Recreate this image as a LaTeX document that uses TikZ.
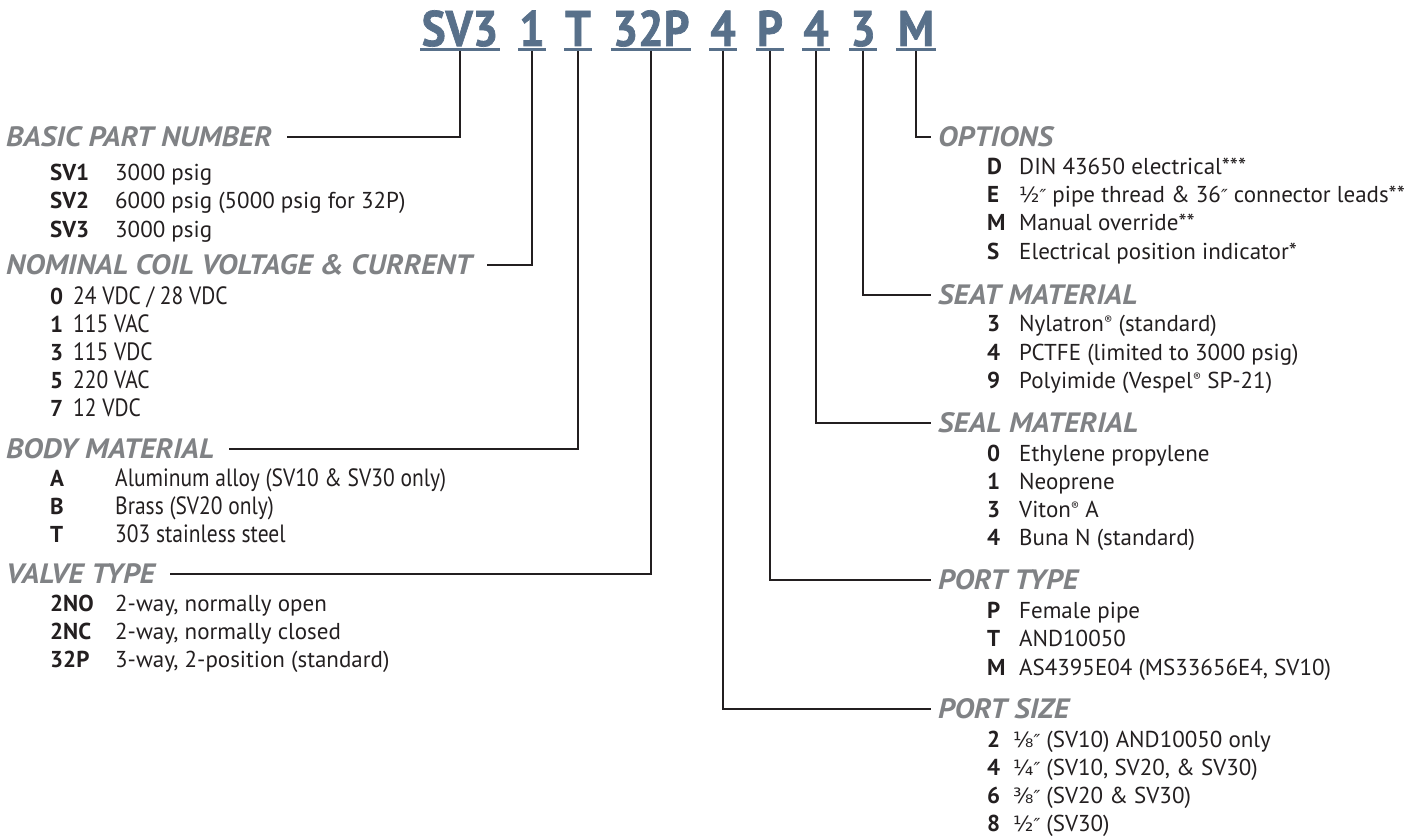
\documentclass[tikz,border=0pt]{standalone}
\usepackage{fontspec}
\setmainfont{PT Sans}
\newfontfamily\condfont[FakeStretch=0.86]{PT Sans}
\newfontfamily\titlefont[FakeStretch=0.9,FakeBold=1.4]{PT Sans}
\newfontfamily\headfont[FakeStretch=1.08]{PT Sans}
\newfontfamily\symfont{DejaVu Sans}
\definecolor{titleblue}{RGB}{88,112,138}
\definecolor{headgray}{RGB}{128,130,133}
\definecolor{ink}{RGB}{35,31,32}
\newcommand{\fr}[1]{{\symfont\fontsize{21}{21}\selectfont #1}}
\newcommand{\dq}{{\symfont\fontsize{18}{18}\selectfont\itshape ″}}
\newcommand{\reg}{\raisebox{0.55ex}{\fontsize{12}{12}\selectfont ®}}
\begin{document}
\begin{tikzpicture}[x=1pt,y=-1pt,
  titlepart/.style={font=\titlefont\bfseries\fontsize{50}{50}\selectfont, text=titleblue, inner sep=0pt, anchor=base},
  uline/.style={draw=titleblue, line width=3pt},
  conn/.style={draw=ink, line width=1.6pt},
  heading/.style={font=\headfont\bfseries\itshape\fontsize{28}{28}\selectfont, text=headgray, inner sep=0pt, anchor=west},
  code/.style={font=\bfseries\fontsize{23}{23}\selectfont, text=ink, inner sep=0pt, anchor=base west},
  desc/.style={font=\fontsize{23}{23}\selectfont, text=ink, inner sep=0pt, anchor=base west},
  cdesc/.style={font=\condfont\fontsize{25}{25}\selectfont, text=ink, inner sep=0pt, anchor=base west}]
\useasboundingbox (0,0) rectangle (1416,837);
% title
\node[titlepart, minimum width=79pt] (t1) at (460,46) {SV3};
\node[titlepart, minimum width=27pt] (t2) at (532,46) {1};
\node[titlepart, minimum width=27pt] (t3) at (578,46) {T};
\node[titlepart, minimum width=80pt] (t4) at (651,46) {32P};
\node[titlepart, minimum width=27pt] (t5) at (723,46) {4};
\node[titlepart, minimum width=28pt] (t6) at (770,46) {P};
\node[titlepart, minimum width=27pt] (t7) at (816,46) {4};
\node[titlepart, minimum width=28pt] (t8) at (863,46) {3};
\node[titlepart, minimum width=40pt] (t9) at (916,46) {M};
\foreach \t in {t1,t2,t3,t4,t5,t6,t7,t8,t9}
  \draw[uline] ([yshift=-3.5pt]\t.base west) -- ([yshift=-3.5pt]\t.base east);
% left headings
\node[heading] (h1) at (6,137) {BASIC PART NUMBER};
\node[heading] (h2) at (6,265) {NOMINAL COIL VOLTAGE \& CURRENT};
\node[heading] (h3) at (6,449) {BODY MATERIAL};
\node[heading] (h4) at (6,574) {VALVE TYPE};
% right headings
\node[heading] (h9) at (938,137) {OPTIONS};
\node[heading] (h8) at (938,295) {SEAT MATERIAL};
\node[heading] (h7) at (938,423) {SEAL MATERIAL};
\node[heading] (h6) at (938,580) {PORT TYPE};
\node[heading] (h5) at (938,709) {PORT SIZE};
% connectors
\draw[conn] ([yshift=-5pt]t1.base) |- ([xshift=15pt]h1.east);
\draw[conn] ([yshift=-5pt]t2.base) |- ([xshift=15pt]h2.east);
\draw[conn] ([yshift=-5pt]t3.base) |- ([xshift=15pt]h3.east);
\draw[conn] ([yshift=-5pt]t4.base) |- ([xshift=15pt]h4.east);
\draw[conn] ([yshift=-5pt]t5.base) |- ([xshift=-7pt]h5.west);
\draw[conn] ([yshift=-5pt]t6.base) |- ([xshift=-7pt]h6.west);
\draw[conn] ([yshift=-5pt]t7.base) |- ([xshift=-7pt]h7.west);
\draw[conn] ([yshift=-5pt]t8.base) |- ([xshift=-7pt]h8.west);
\draw[conn] ([yshift=-5pt]t9.base) |- ([xshift=-7pt]h9.west);
% BASIC PART NUMBER
\node[code] (a1c) at (50,181) {SV1}; \node[desc] (a1d) at (115,181) {3000 psig};
\node[code] (a2c) at (50,209) {SV2}; \node[desc] (a2d) at (115,209) {6000 psig (5000 psig for 32P)};
\node[code] (a3c) at (50,237) {SV3}; \node[desc] (a3d) at (115,237) {3000 psig};
% NOMINAL COIL
\node[code] (b1c) at (50,304) {0}; \node[cdesc] (b1d) at (73,304) {24 VDC / 28 VDC};
\node[code] (b2c) at (50,332) {1}; \node[cdesc] (b2d) at (73,332) {115 VAC};
\node[code] (b3c) at (50,360) {3}; \node[cdesc] (b3d) at (73,360) {115 VDC};
\node[code] (b4c) at (50,388) {5}; \node[cdesc] (b4d) at (73,388) {220 VAC};
\node[code] (b5c) at (50,416) {7}; \node[cdesc] (b5d) at (73,416) {12 VDC};
% BODY MATERIAL
\node[code] (c1c) at (50,486) {A}; \node[cdesc] (c1d) at (115,486) {Aluminum alloy (SV10 \& SV30 only)};
\node[code] (c2c) at (50,514) {B}; \node[cdesc] (c2d) at (115,514) {Brass (SV20 only)};
\node[code] (c3c) at (50,542) {T}; \node[cdesc] (c3d) at (115,542) {303 stainless steel};
% VALVE TYPE
\node[code] (d1c) at (50,611) {2NO}; \node[desc] (d1d) at (115,611) {2-way, normally open};
\node[code] (d2c) at (50,639) {2NC}; \node[desc] (d2d) at (115,639) {2-way, normally closed};
\node[code] (d3c) at (50,667) {32P}; \node[desc] (d3d) at (115,667) {3-way, 2-position (standard)};
% OPTIONS
\node[code] (e1c) at (987,175) {D}; \node[desc] (e1d) at (1019,175) {DIN 43650 electrical***};
\node[code] (e2c) at (987,203) {E}; \node[desc] (e2d) at (1019,203) {\fr{½}\dq{} pipe thread \& 36\dq{} connector leads**};
\node[code] (e3c) at (987,231) {M}; \node[desc] (e3d) at (1019,231) {Manual override**};
\node[code] (e4c) at (987,259) {S}; \node[desc] (e4d) at (1019,259) {Electrical position indicator*};
% SEAT MATERIAL
\node[code] (f1c) at (987,331) {3}; \node[desc] (f1d) at (1019,331) {Nylatron\reg{} (standard)};
\node[code] (f2c) at (987,360) {4}; \node[desc] (f2d) at (1019,360) {PCTFE (limited to 3000 psig)};
\node[code] (f3c) at (987,388) {9}; \node[desc] (f3d) at (1019,388) {Polyimide (Vespel\reg{} SP-21)};
% SEAL MATERIAL
\node[code] (g1c) at (987,461) {0}; \node[desc] (g1d) at (1019,461) {Ethylene propylene};
\node[code] (g2c) at (987,489) {1}; \node[desc] (g2d) at (1019,489) {Neoprene};
\node[code] (g3c) at (987,517) {3}; \node[desc] (g3d) at (1019,517) {Viton\reg{} A};
\node[code] (g4c) at (987,545) {4}; \node[desc] (g4d) at (1019,545) {Buna N (standard)};
% PORT TYPE
\node[code] (p1c) at (987,618) {P}; \node[desc] (p1d) at (1019,618) {Female pipe};
\node[code] (p2c) at (987,646) {T}; \node[desc] (p2d) at (1019,646) {AND10050};
\node[code] (p3c) at (987,675) {M}; \node[desc] (p3d) at (1019,675) {AS4395E04 (MS33656E4, SV10)};
% PORT SIZE
\node[code] (s1c) at (987,747) {2}; \node[desc] (s1d) at (1013,747) {\fr{⅛}\dq{} (SV10) AND10050 only};
\node[code] (s2c) at (987,775) {4}; \node[desc] (s2d) at (1013,775) {\fr{¼}\dq{} (SV10, SV20, \& SV30)};
\node[code] (s3c) at (987,803) {6}; \node[desc] (s3d) at (1013,803) {\fr{⅜}\dq{} (SV20 \& SV30)};
\node[code] (s4c) at (987,831) {8}; \node[desc] (s4d) at (1013,831) {\fr{½}\dq{} (SV30)};
\end{tikzpicture}
\end{document}
